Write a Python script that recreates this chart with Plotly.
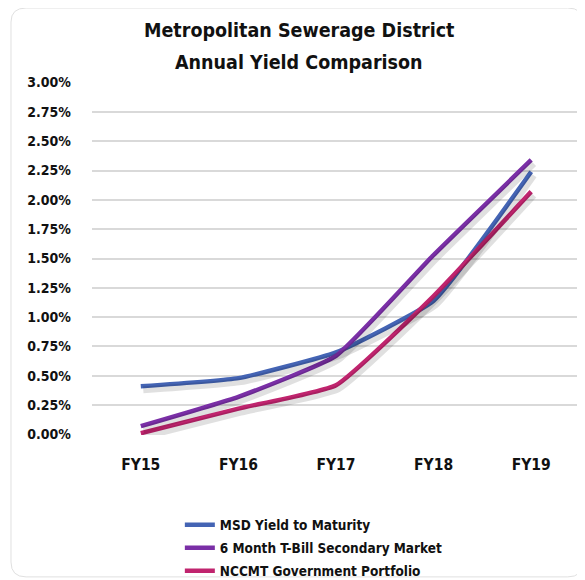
import plotly.graph_objects as go

categories = ["FY15", "FY16", "FY17", "FY18", "FY19"]
msd_ytm = [0.41, 0.48, 0.70, 1.14, 2.24]
tbill_6m = [0.07, 0.32, 0.67, 1.53, 2.34]
nccmt = [0.01, 0.22, 0.42, 1.18, 2.07]

series_names = ["MSD Yield to Maturity", "6 Month T-Bill Secondary Market", "NCCMT Government Portfolio"]
series_values = [msd_ytm, tbill_6m, nccmt]
series_colors = ["#4464B4", "#7A2FA6", "#C0246E"]

title_lines = ["Metropolitan Sewerage District", "Annual Yield Comparison"]

y_ticks = [i * 0.25 for i in range(13)]
y_tick_labels = [f"{v:.2f}%" for v in y_ticks]

FONT = "Liberation Sans Narrow, DejaVu Sans Condensed, Roboto Condensed, Arial Narrow, sans-serif"

fig = go.Figure()

for vals in series_values:
    fig.add_trace(go.Scatter(
        x=list(range(len(categories))), y=vals, mode="lines",
        line=dict(color="rgba(0,0,0,0.12)", width=7, shape="spline", smoothing=0.4),
        xaxis="x2", yaxis="y2", showlegend=False, hoverinfo="skip"))

legend_ids = ["legend", "legend2", "legend3"]
for name, vals, col, lg in zip(series_names, series_values, series_colors, legend_ids):
    fig.add_trace(go.Scatter(
        x=list(range(len(categories))), y=vals, mode="lines", name=name, legend=lg,
        line=dict(color=col, width=4.5, shape="spline", smoothing=0.4)))

legend_style = dict(x=0.180, xanchor="left", yanchor="middle",
                    font=dict(family=FONT, size=13.5, color="#111111", weight="bold"),
                    itemwidth=30, bgcolor="rgba(0,0,0,0)")

fig.update_layout(
    width=577, height=572,
    margin=dict(l=84, r=5, t=74, b=145, autoexpand=False),
    paper_bgcolor="white", plot_bgcolor="white",
    font=dict(family=FONT, color="#111111"),
    xaxis=dict(range=[-0.5, 4.5], tickvals=list(range(len(categories))), ticktext=categories,
               showgrid=False, zeroline=False, showline=False, ticks="",
               ticklabelstandoff=18,
               tickfont=dict(family=FONT, size=15.5, color="#111111", weight="bold")),
    yaxis=dict(range=[-0.005, 3.005], tickvals=y_ticks, ticktext=y_tick_labels,
               showgrid=True, gridcolor="#d9d9d9", gridwidth=1.5, zeroline=False,
               showline=False, ticks="", ticklabelstandoff=20,
               tickfont=dict(family=FONT, size=14, color="#111111", weight="bold")),
    xaxis2=dict(range=[-0.525, 4.475], overlaying="x", visible=False),
    yaxis2=dict(range=[0.025, 3.035], overlaying="y", visible=False),
    legend=dict(y=-0.255, **legend_style),
    legend2=dict(y=-0.320, **legend_style),
    legend3=dict(y=-0.385, **legend_style),
    annotations=[dict(text=t, xref="paper", yref="paper", x=0.424, y=yy,
                      xanchor="center", yanchor="middle", showarrow=False,
                      font=dict(family=FONT, size=19.5, color="#111111", weight="bold"))
                 for t, yy in zip(title_lines, [1.147, 1.054])],
    shapes=[dict(type="path", xref="paper", yref="paper",
                 path="M -0.135 1.2096 L 0.975 1.2096 Q 1.006 1.2096 1.006 1.17 "
                      "L 1.006 -0.36 Q 1.006 -0.402 0.975 -0.402 L -0.135 -0.402 "
                      "Q -0.166 -0.402 -0.166 -0.36 L -0.166 1.17 Q -0.166 1.2096 -0.135 1.2096 Z",
                 line=dict(color="#e0e0e0", width=1), layer="below")],
)

fig.write_html("out.html")
